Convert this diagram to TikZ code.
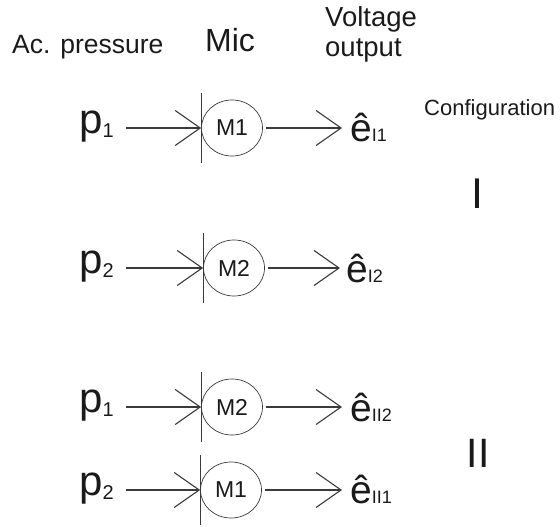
\documentclass[tikz,border=0pt]{standalone}
\usepackage{fontspec}
\setmainfont{Liberation Sans}
\usetikzlibrary{arrows.meta,positioning,shapes.geometric}
\definecolor{ink}{HTML}{1A1A1A}
\definecolor{wire}{HTML}{3A3A3A}

\newcommand{\pxfont}[1]{\fontsize{#1}{#1}\selectfont}
\newcommand{\pres}[1]{{\pxfont{42}p}\raisebox{-4pt}{\pxfont{20}#1}}
\newcommand{\volt}[1]{{\pxfont{39}ê}{\pxfont{18}#1}}

\begin{document}
\begin{tikzpicture}[
    x=1pt, y=-1pt,
    head/.style={inner sep=0pt, anchor=base west, text=ink},
    mic/.style={draw=wire, ellipse, line width=0.7pt, minimum width=61pt, minimum height=56pt, inner sep=0pt, font=\pxfont{23}, text=ink},
    inlabel/.style={inner sep=0pt, anchor=base east, text=ink},
    outlabel/.style={inner sep=0pt, anchor=base west, text=ink},
    config/.style={inner sep=0pt, anchor=base, text=ink},
    diaphragm/.style={draw=wire, line width=0.8pt},
    line/.style={draw=wire, line width=1.1pt, -{Straight Barb[length=25pt, width=35pt, line width=1.1pt]}}
  ]
    \useasboundingbox (0,0) rectangle (560,527);

    % Headings
    \node[head, font=\pxfont{26.5}] (hpress) at (12,54) {Ac. pressure};
    \node[head, font=\pxfont{32}] (hmic) at (205,52) {Mic};
    \node[head, font=\fontsize{27.5}{30}\selectfont, align=left] (hvolt) at (325,57) {Voltage\\output};
    \node[head, font=\pxfont{22}] (hconf) at (424,115) {Configuration};

    % Nodes
    \node[mic] (m1) at (232,128) {M1};
    \node[mic] (m2) at (234,268) {M2};
    \node[mic] (m3) at (232,407) {M2};
    \node[mic] (m4) at (231,490) {M1};

    \node[inlabel] (p1) at (114,133) {\pres{1}};
    \node[inlabel] (p2) at (114,273) {\pres{2}};
    \node[inlabel] (p3) at (114,412) {\pres{1}};
    \node[inlabel] (p4) at (114,495) {\pres{2}};

    \node[outlabel] (e1) at (350,142) {\volt{I1}};
    \node[outlabel] (e2) at (346,282) {\volt{I2}};
    \node[outlabel] (e3) at (350,421) {\volt{II2}};
    \node[outlabel] (e4) at (350,503) {\volt{II1}};

    \node[config, font=\pxfont{43}] (c1) at (477,208) {I};
    \node[config, font=\pxfont{41}] (c2) at (478,467) {II};

    % Diaphragms
    \foreach \m in {m1,m2,m3,m4}
      \draw[diaphragm] ([yshift=35pt]\m.west) -- ([yshift=-35pt]\m.west);

    % Edges
    \draw[line] ([xshift=12pt]p1.east |- m1) -- (m1.west);
    \draw[line] ([xshift=12pt]p2.east |- m2) -- (m2.west);
    \draw[line] ([xshift=12pt]p3.east |- m3) -- (m3.west);
    \draw[line] ([xshift=12pt]p4.east |- m4) -- (m4.west);

    \draw[line, shorten <=3pt] (m1.east) -- ([xshift=-8pt]e1.west |- m1);
    \draw[line, shorten <=3pt] (m2.east) -- ([xshift=-6pt]e2.west |- m2);
    \draw[line, shorten <=3pt] (m3.east) -- ([xshift=-8pt]e3.west |- m3);
    \draw[line, shorten <=3pt] (m4.east) -- ([xshift=-8pt]e4.west |- m4);
  \end{tikzpicture}
\end{document}
